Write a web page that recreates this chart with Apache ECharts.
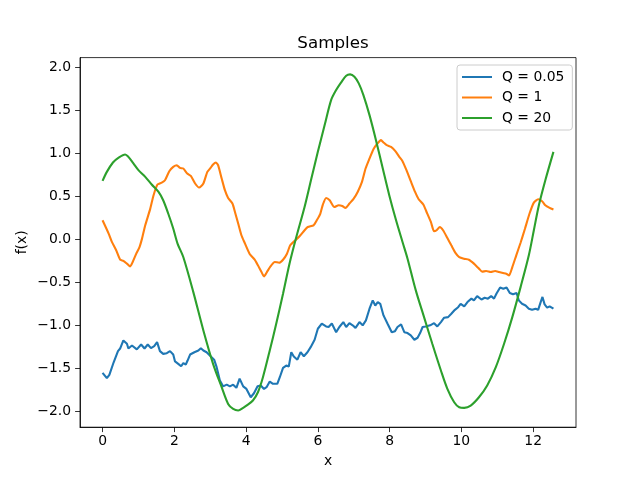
<!DOCTYPE html>
<html>
<head>
<meta charset="utf-8">
<script src="https://cdn.jsdelivr.net/npm/echarts@6/dist/echarts.min.js"></script>
<style>html,body{margin:0;padding:0;background:#fff}#c{width:640px;height:480px}</style>
</head>
<body>
<div id="c"></div>
<script>
var seriesNames = ['Q = 0.05', 'Q = 1', 'Q = 20'];
var xTicks = [0, 2, 4, 6, 8, 10, 12];
var yTicks = [-2.0, -1.5, -1.0, -0.5, 0.0, 0.5, 1.0, 1.5, 2.0];

var blueX = [0,0.12,0.19,0.24,0.31,0.43,0.49,0.58,0.68,0.72,0.82,0.955,1.075,1.17,1.26,1.35,1.44,1.52,1.60,1.69,1.79,1.88,1.97,2.02,2.11,2.19,2.25,2.32,2.37,2.44,2.56,2.67,2.74,2.81,2.90,2.99,3.11,3.18,3.27,3.36,3.46,3.55,3.64,3.73,3.82,3.92,4.01,4.13,4.22,4.32,4.41,4.50,4.57,4.66,4.75,4.87,4.94,5.03,5.12,5.19,5.26,5.33,5.43,5.52,5.61,5.71,5.80,5.91,6.00,6.11,6.23,6.30,6.39,6.51,6.60,6.71,6.79,6.88,6.97,7.05,7.16,7.25,7.34,7.44,7.53,7.60,7.67,7.74,7.83,7.94,8.06,8.15,8.22,8.32,8.41,8.50,8.59,8.69,8.78,8.85,8.92,9.01,9.13,9.24,9.33,9.43,9.52,9.63,9.72,9.82,9.91,9.98,10.08,10.17,10.28,10.35,10.44,10.56,10.65,10.74,10.83,10.91,10.98,11.08,11.17,11.26,11.35,11.44,11.54,11.60,11.69,11.79,11.88,11.97,12.07,12.14,12.21,12.26,12.32,12.39,12.46,12.566];
var blueY = [-1.553,-1.615,-1.576,-1.596,-1.43,-1.30,-1.27,-1.176,-1.215,-1.27,-1.235,-1.28,-1.223,-1.27,-1.223,-1.266,-1.243,-1.196,-1.30,-1.332,-1.324,-1.30,-1.34,-1.42,-1.448,-1.476,-1.44,-1.456,-1.41,-1.34,-1.313,-1.293,-1.266,-1.293,-1.313,-1.35,-1.40,-1.487,-1.642,-1.71,-1.69,-1.71,-1.69,-1.727,-1.62,-1.71,-1.74,-1.837,-1.79,-1.71,-1.70,-1.74,-1.72,-1.654,-1.68,-1.68,-1.604,-1.495,-1.468,-1.48,-1.313,-1.363,-1.40,-1.313,-1.36,-1.313,-1.254,-1.168,-1.04,-0.98,-1.013,-1.02,-0.98,-1.08,-1.02,-0.963,-1.02,-0.975,-1.00,-1.03,-0.963,-1.00,-0.943,-0.807,-0.71,-0.77,-0.73,-0.75,-0.885,-0.98,-1.08,-1.068,-1.02,-0.99,-1.08,-1.09,-1.118,-1.168,-1.145,-1.09,-1.02,-1.013,-1.00,-0.975,-1.013,-0.963,-0.912,-0.905,-0.866,-0.82,-0.79,-0.75,-0.78,-0.73,-0.69,-0.71,-0.66,-0.70,-0.68,-0.69,-0.66,-0.69,-0.63,-0.56,-0.574,-0.56,-0.625,-0.64,-0.625,-0.71,-0.75,-0.77,-0.807,-0.82,-0.807,-0.82,-0.73,-0.67,-0.757,-0.795,-0.78,-0.807];

var orangeX = [0,0.17,0.26,0.38,0.49,0.58,0.68,0.77,0.84,0.94,1.03,1.10,1.19,1.33,1.42,1.53,1.65,1.74,1.86,1.97,2.07,2.16,2.25,2.36,2.46,2.58,2.69,2.81,2.92,3.01,3.08,3.16,3.22,3.32,3.41,3.50,3.62,3.69,3.78,3.87,3.96,4.10,4.24,4.33,4.43,4.50,4.58,4.68,4.80,4.92,5.03,5.14,5.23,5.35,5.49,5.63,5.72,5.88,5.97,6.07,6.14,6.23,6.33,6.46,6.58,6.68,6.77,6.88,6.99,7.11,7.23,7.33,7.44,7.55,7.64,7.76,7.83,7.92,8.04,8.16,8.27,8.36,8.47,8.59,8.71,8.81,8.94,9.03,9.15,9.24,9.31,9.40,9.49,9.61,9.72,9.84,9.94,10.07,10.21,10.35,10.49,10.58,10.69,10.82,10.94,11.05,11.16,11.25,11.33,11.42,11.53,11.65,11.77,11.90,12.02,12.14,12.25,12.34,12.46,12.566];
var orangeY = [0.221,0.066,-0.03,-0.128,-0.237,-0.25,-0.283,-0.315,-0.264,-0.167,-0.09,0.008,0.163,0.357,0.51,0.637,0.66,0.687,0.792,0.842,0.862,0.83,0.823,0.765,0.737,0.649,0.602,0.649,0.784,0.83,0.87,0.893,0.862,0.707,0.571,0.481,0.416,0.318,0.183,0.047,-0.04,-0.17,-0.237,-0.303,-0.381,-0.431,-0.381,-0.315,-0.264,-0.272,-0.237,-0.167,-0.07,-0.02,0.035,0.105,0.143,0.163,0.221,0.30,0.404,0.481,0.454,0.376,0.396,0.388,0.365,0.416,0.466,0.551,0.667,0.823,0.94,1.048,1.103,1.153,1.126,1.095,1.075,1.025,0.959,0.909,0.804,0.676,0.551,0.466,0.404,0.318,0.202,0.093,0.105,0.143,0.105,0.015,-0.07,-0.16,-0.206,-0.225,-0.237,-0.283,-0.341,-0.376,-0.369,-0.381,-0.369,-0.381,-0.393,-0.40,-0.42,-0.323,-0.186,-0.04,0.12,0.30,0.427,0.466,0.443,0.396,0.365,0.346];

var greenX = [0,0.12,0.29,0.44,0.63,0.72,0.86,1.00,1.19,1.37,1.56,1.69,1.83,1.97,2.09,2.25,2.53,2.81,3.08,3.32,3.50,3.64,3.78,3.92,4.01,4.19,4.33,4.47,4.66,4.84,5.03,5.21,5.40,5.63,5.82,6.00,6.19,6.37,6.51,6.65,6.79,6.90,7.02,7.14,7.27,7.44,7.62,7.81,7.99,8.18,8.36,8.50,8.73,8.96,9.19,9.43,9.61,9.80,9.94,10.08,10.26,10.49,10.72,10.96,11.19,11.42,11.65,11.88,12.02,12.16,12.34,12.566];
var greenY = [0.679,0.784,0.893,0.947,0.987,0.959,0.882,0.804,0.726,0.637,0.551,0.454,0.30,0.125,-0.05,-0.206,-0.614,-1.06,-1.448,-1.72,-1.914,-1.972,-1.99,-1.96,-1.934,-1.875,-1.779,-1.604,-1.293,-0.982,-0.633,-0.283,0.027,0.376,0.707,1.017,1.328,1.619,1.736,1.825,1.902,1.918,1.89,1.813,1.677,1.444,1.153,0.823,0.513,0.221,-0.031,-0.225,-0.594,-0.905,-1.215,-1.526,-1.739,-1.895,-1.953,-1.96,-1.934,-1.837,-1.70,-1.487,-1.215,-0.905,-0.556,-0.186,0.105,0.396,0.687,1.017];

function pairs(xs, ys) { return xs.map(function (x, i) { return [x, ys[i]]; }); }
var colors = ['#1f77b4', '#ff7f0e', '#2ca02c'];
var font = 'DejaVu Sans';
var fmtY = function (v) { return v.toFixed(1).replace('-', '\u2212'); };

var chart = echarts.init(document.getElementById('c'), null, {renderer: 'canvas'});
chart.setOption({
  animation: false,
  backgroundColor: '#fff',
  title: {
    text: 'Samples', left: 328, top: 30, textAlign: 'center',
    textStyle: {fontFamily: font, fontSize: 16.7, fontWeight: 'normal', color: '#000'}
  },
  legend: {
    data: seriesNames, orient: 'vertical', left: 457, top: 65,
    icon: 'rect', itemWidth: 30, itemHeight: 2, itemGap: 6.5,
    padding: [5, 8, 5, 5],
    backgroundColor: 'rgba(255,255,255,0.8)', borderColor: '#cccccc', borderWidth: 1, borderRadius: 3,
    textStyle: {fontFamily: font, fontSize: 13.9, color: '#000', padding: [0, 0, 0, 5], lineHeight: 14}
  },
  grid: {left: 80, right: 64, top: 57.6, bottom: 52.8, show: true, borderColor: '#000', borderWidth: 0.8, backgroundColor: 'transparent'},
  xAxis: {
    type: 'value', min: -0.6283, max: 13.1947,
    name: 'x', nameLocation: 'middle', nameGap: 27, nameMoveOverlap: false,
    nameTextStyle: {fontFamily: font, fontSize: 13.9, color: '#000'},
    axisLine: {show: true, onZero: false, lineStyle: {color: '#000', width: 0.8}},
    axisTick: {show: true, inside: false, customValues: xTicks, length: 4.9, lineStyle: {color: '#000', width: 0.8}},
    axisLabel: {customValues: xTicks, margin: 7, fontFamily: font, fontSize: 13.9, color: '#000'},
    splitLine: {show: false}
  },
  yAxis: {
    type: 'value', min: -2.185, max: 2.113,
    name: 'f(x)', nameLocation: 'middle', nameGap: 51, nameRotate: 90, nameMoveOverlap: false,
    nameTextStyle: {fontFamily: font, fontSize: 13.9, color: '#000'},
    axisLine: {show: true, onZero: false, lineStyle: {color: '#000', width: 0.8}},
    axisTick: {show: true, inside: false, customValues: yTicks, length: 4.9, lineStyle: {color: '#000', width: 0.8}},
    axisLabel: {customValues: yTicks, margin: 9, fontFamily: font, fontSize: 13.9, color: '#000', formatter: fmtY},
    splitLine: {show: false}
  },
  series: [
    {name: seriesNames[0], type: 'line', data: pairs(blueX, blueY), symbol: 'none', color: colors[0], lineStyle: {width: 2.1, color: colors[0]}},
    {name: seriesNames[1], type: 'line', data: pairs(orangeX, orangeY), symbol: 'none', smooth: 0.2, color: colors[1], lineStyle: {width: 2.1, color: colors[1]}},
    {name: seriesNames[2], type: 'line', data: pairs(greenX, greenY), symbol: 'none', smooth: 0.3, color: colors[2], lineStyle: {width: 2.1, color: colors[2]}}
  ]
});
</script>
</body>
</html>
